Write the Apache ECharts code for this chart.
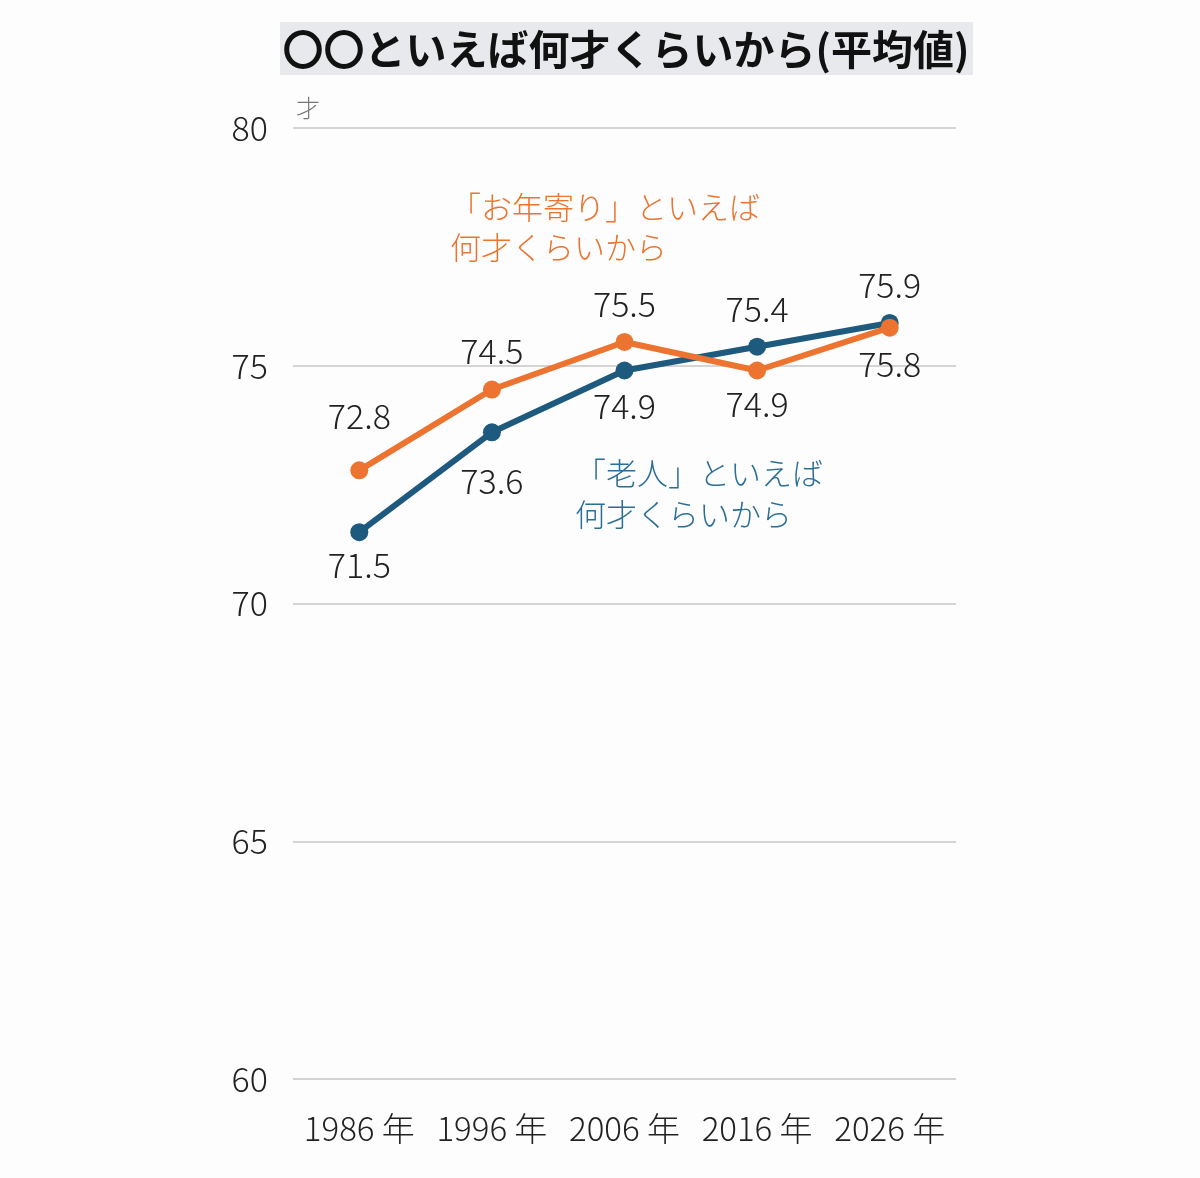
<!DOCTYPE html>
<html>
<head>
<meta charset="utf-8">
<script src="https://cdn.jsdelivr.net/npm/echarts@6/dist/echarts.min.js"></script>
<style>
  html, body { margin: 0; padding: 0; background: #fdfdfd; }
  #chart { width: 1200px; height: 1178px; }
</style>
</head>
<body>
<div id="chart"></div>
<script>
  const years = ['1986 年', '1996 年', '2006 年', '2016 年', '2026 年'];
  const rojin = [71.5, 73.6, 74.9, 75.4, 75.9];      // 「老人」
  const otoshiyori = [72.8, 74.5, 75.5, 74.9, 75.8]; // 「お年寄り」
  const yTicks = [60, 65, 70, 75, 80];

  // label placement for each point
  const rojinLabelPos = [['bottom', 7], ['bottom', 23], ['bottom', 10], ['top', 12], ['top', 12]];
  const otoLabelPos = [['top', 28], ['top', 12], ['top', 12], ['bottom', 8], ['bottom', 10]];

  const blue = '#1d5a7e';
  const orange = '#ec7430';
  const font = '"Noto Sans CJK JP", "Noto Sans", sans-serif';

  function toData(values, pos) {
    return values.map((v, i) => ({
      value: v,
      label: { position: pos[i][0], distance: pos[i][1] }
    }));
  }

  const chart = echarts.init(document.getElementById('chart'));
  const labelStyle = { show: true, fontSize: 34, fontWeight: 300, color: '#222', fontFamily: font };
  const option = {
    backgroundColor: '#fdfdfd',
    animation: false,
    grid: { left: 293, right: 244, top: 128, bottom: 99 },
    xAxis: {
      type: 'category',
      data: years,
      boundaryGap: true,
      axisLine: { show: false },
      axisTick: { show: false },
      axisLabel: { interval: 0, margin: 33, fontSize: 33, fontWeight: 300, color: '#222', fontFamily: font }
    },
    yAxis: {
      type: 'value',
      min: yTicks[0],
      max: yTicks[yTicks.length - 1],
      interval: 5,
      axisLine: { show: false },
      axisTick: { show: false },
      axisLabel: { margin: 25, fontSize: 34, fontWeight: 300, color: '#222', fontFamily: font },
      splitLine: { lineStyle: { color: '#d4d4d4', width: 2 } }
    },
    series: [
      {
        name: '老人',
        type: 'line',
        data: toData(rojin, rojinLabelPos),
        symbol: 'circle',
        symbolSize: 18,
        itemStyle: { color: blue },
        lineStyle: { color: blue, width: 6 },
        label: labelStyle
      },
      {
        name: 'お年寄り',
        type: 'line',
        data: toData(otoshiyori, otoLabelPos),
        symbol: 'circle',
        symbolSize: 18,
        itemStyle: { color: orange },
        lineStyle: { color: orange, width: 6 },
        label: labelStyle
      }
    ],
    graphic: [
      {
        type: 'rect',
        shape: { x: 280, y: 22, width: 693, height: 53 },
        style: { fill: '#e8e9ed' },
        silent: true
      },
      {
        type: 'text',
        x: 626, y: 49,
        style: {
          text: '〇〇といえば何才くらいから(平均値)',
          font: 'bold 41px ' + font,
          fill: '#111',
          align: 'center',
          verticalAlign: 'middle'
        }
      },
      {
        type: 'text',
        x: 296, y: 108,
        style: {
          text: '才',
          font: '300 24px ' + font,
          fill: '#777',
          verticalAlign: 'middle'
        }
      },
      {
        type: 'text',
        x: 450, y: 227,
        style: {
          text: '「お年寄り」といえば\n何才くらいから',
          font: '300 31px ' + font,
          lineHeight: 40,
          fill: orange,
          verticalAlign: 'middle'
        }
      },
      {
        type: 'text',
        x: 575, y: 494,
        style: {
          text: '「老人」といえば\n何才くらいから',
          font: '300 31px ' + font,
          lineHeight: 41,
          fill: '#2c6f96',
          verticalAlign: 'middle'
        }
      }
    ]
  };
  chart.setOption(option);
</script>
</body>
</html>
